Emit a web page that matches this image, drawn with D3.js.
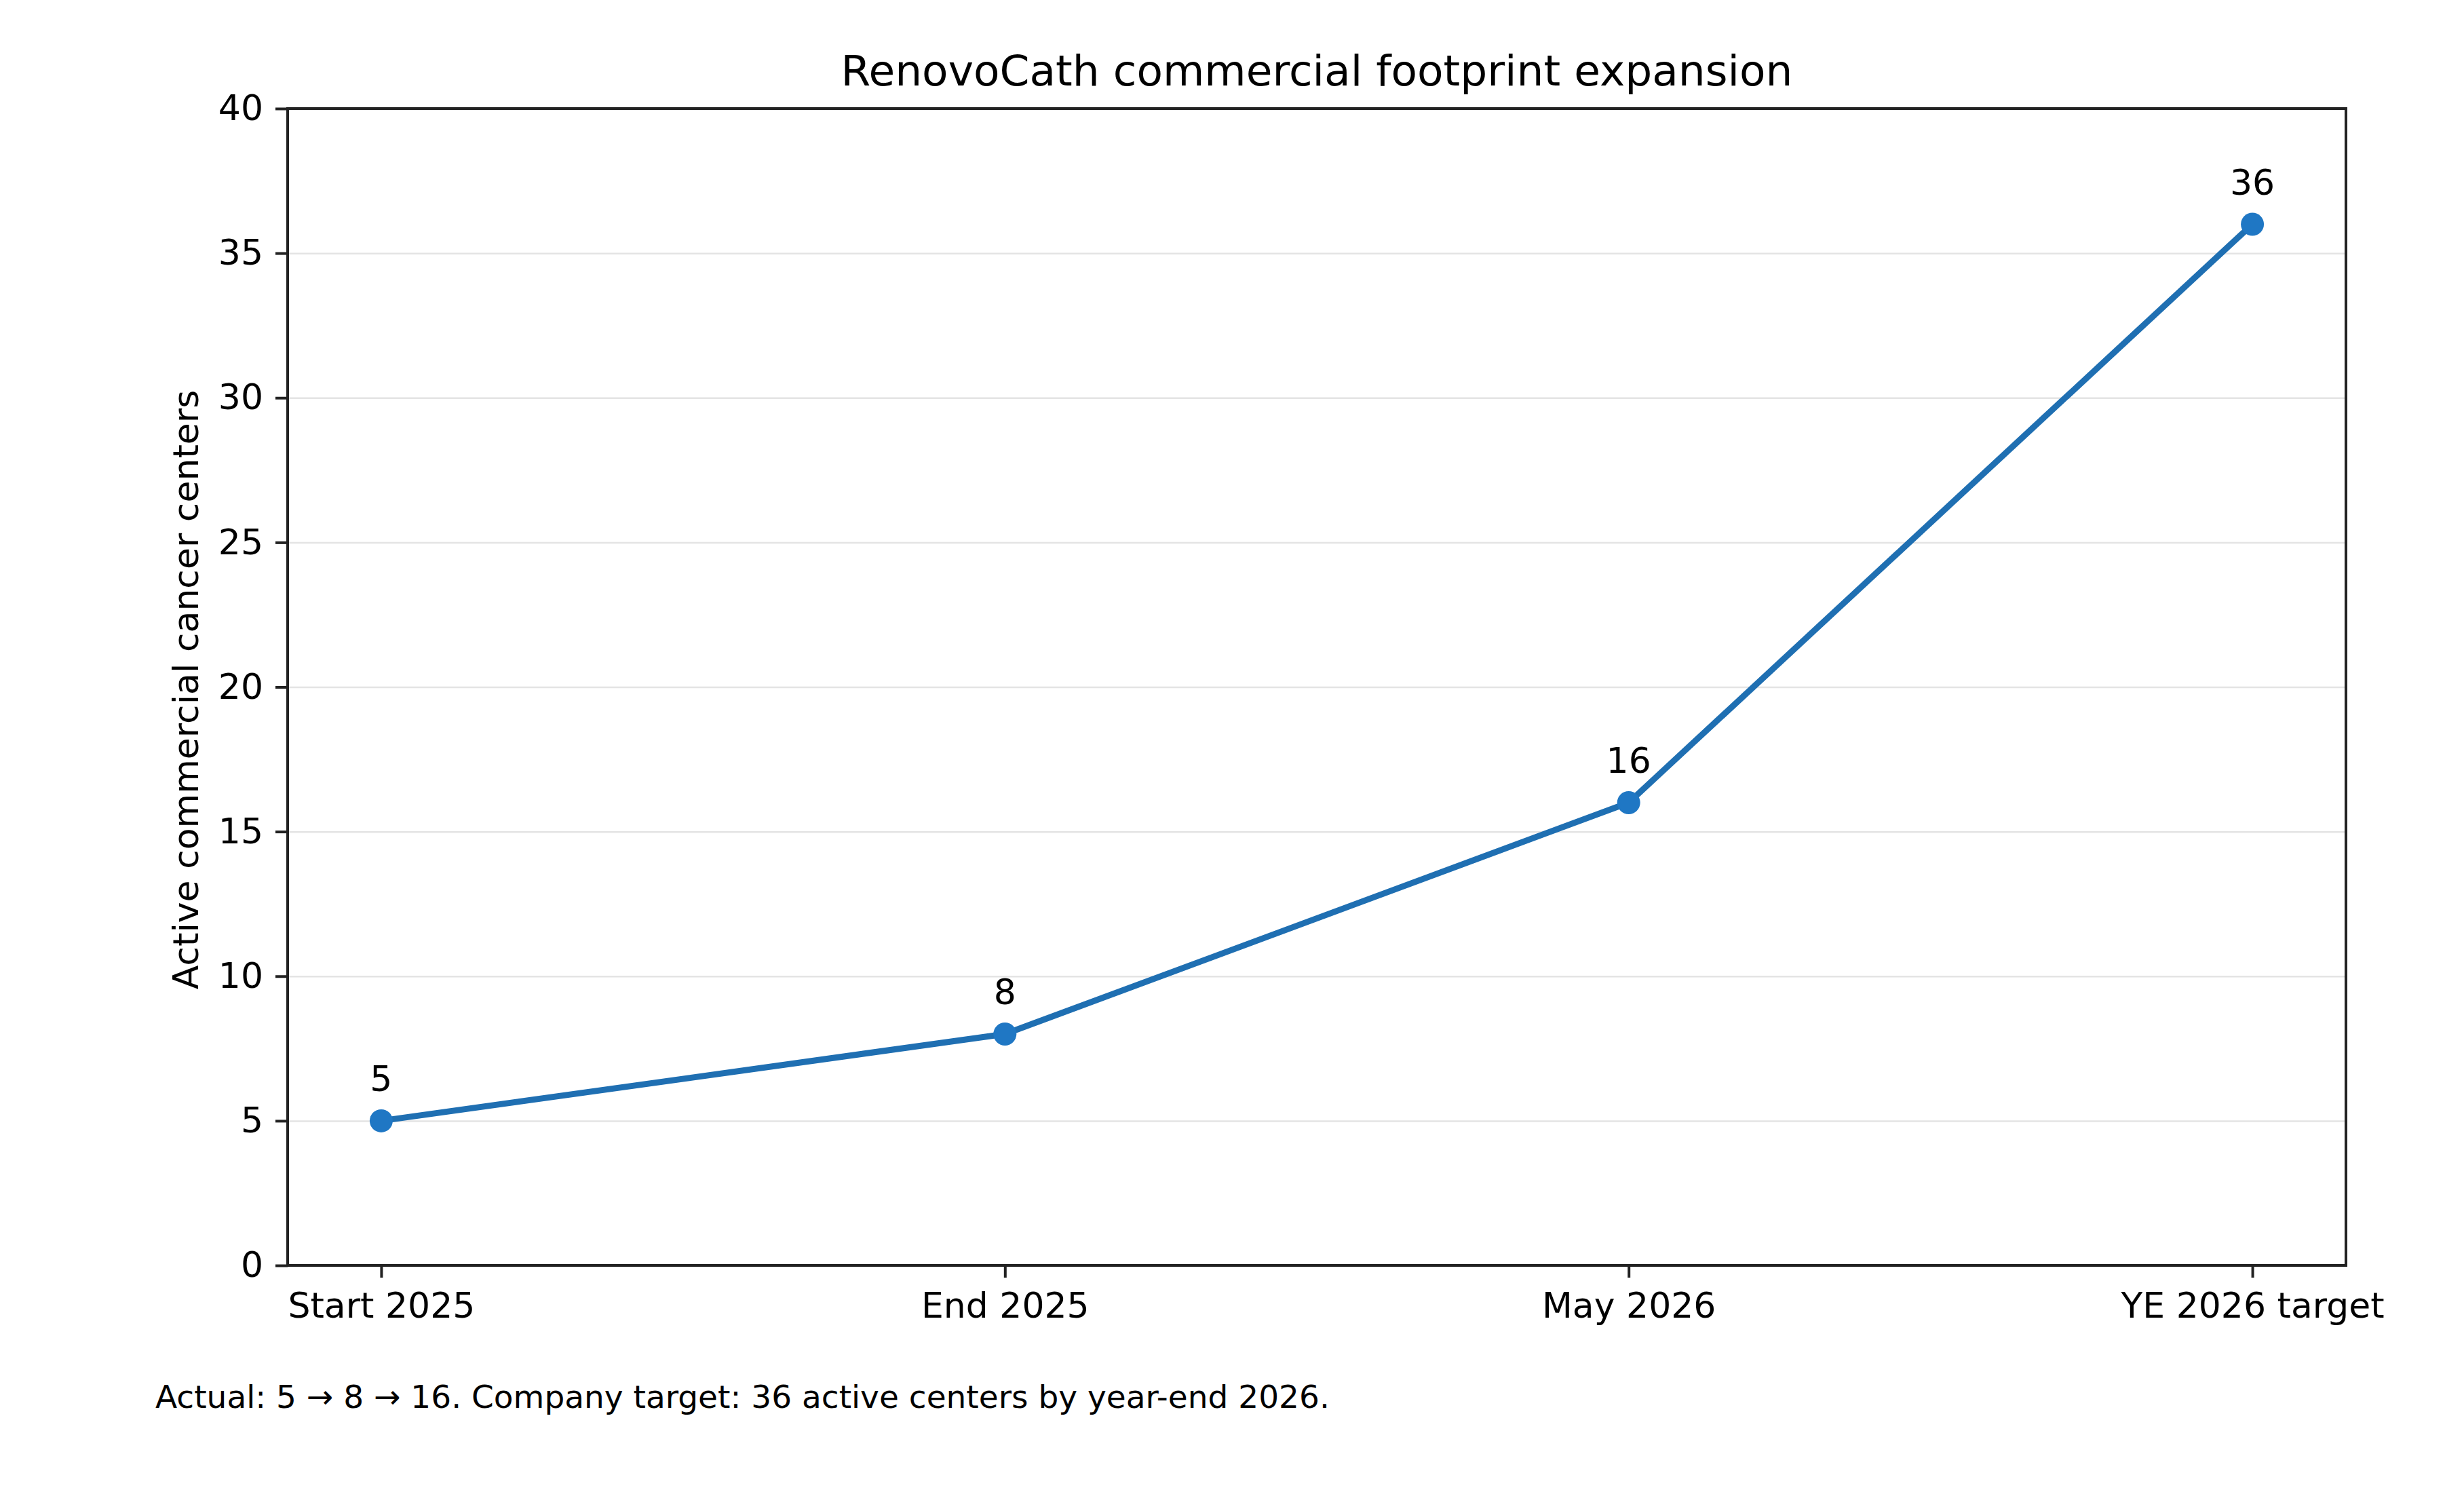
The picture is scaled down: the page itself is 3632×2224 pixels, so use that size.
<!DOCTYPE html>
<html>
<head>
<meta charset="utf-8">
<script src="https://cdn.jsdelivr.net/npm/d3@7"></script>
<style>
  body { margin: 0; background: #fff; }
  text { font-family: "DejaVu Sans", sans-serif; fill: #000; }
</style>
</head>
<body>
<div id="chart"></div>
<script>
// chart data
const categories = ["Start 2025", "End 2025", "May 2026", "YE 2026 target"];
const centers = [5, 8, 16, 36];
const yTicks = [0, 5, 10, 15, 20, 25, 30, 35, 40];

const titleText = "RenovoCath commercial footprint expansion";
const yLabel = "Active commercial cancer centers";
const footnote = "Actual: 5 \u2192 8 \u2192 16. Company target: 36 active centers by year-end 2026.";

const width = 3632, height = 2224;
const margin = {top: 160, right: 174, bottom: 359, left: 424};
const fs = 52;          // tick label size
const tickLen = 18, tickPad = 22;

var svg = d3.select("#chart").append("svg")
    .attr("width", width)
    .attr("height", height);

var plotW = width - margin.left - margin.right,
    plotH = height - margin.top - margin.bottom;

var g = svg.append("g").attr("transform", "translate(" + margin.left + "," + margin.top + ")");

// x behaves like matplotlib categorical axis with 5% margins
var x = d3.scaleLinear()
    .domain([-0.15, categories.length - 1 + 0.15])
    .range([0, plotW]);

var y = d3.scaleLinear()
    .domain([0, 40])
    .range([plotH, 0]);

// grid lines
g.append("g")
    .attr("class", "grid")
    .call(d3.axisLeft(y).tickValues(yTicks).tickSize(-plotW).tickFormat(""))
    .call(a => a.select(".domain").remove())
    .call(a => a.selectAll("line").attr("stroke", "#e4e4e4").attr("stroke-width", 2.5));

// axes
var yAxis = g.append("g")
    .call(d3.axisLeft(y).tickValues(yTicks).tickSize(tickLen).tickPadding(18));
yAxis.select(".domain").remove();
yAxis.selectAll("line").attr("stroke", "#222").attr("stroke-width", 4);
yAxis.selectAll("text").style("font-size", fs + "px").style("font-family", "DejaVu Sans").attr("fill", "#222");

var xAxis = g.append("g")
    .attr("transform", "translate(0," + plotH + ")")
    .call(d3.axisBottom(x).tickValues(d3.range(categories.length))
      .tickFormat(i => categories[i]).tickSize(tickLen).tickPadding(tickPad));
xAxis.select(".domain").remove();
xAxis.selectAll("line").attr("stroke", "#222").attr("stroke-width", 4);
xAxis.selectAll("text").style("font-size", fs + "px").style("font-family", "DejaVu Sans").attr("fill", "#222");

// frame (all four spines)
g.append("rect")
    .attr("width", plotW)
    .attr("height", plotH)
    .attr("fill", "none")
    .attr("stroke", "#222")
    .attr("stroke-width", 4);

// line + markers
var line = d3.line()
    .x((d, i) => x(i))
    .y(d => y(d));

g.append("path")
    .datum(centers)
    .attr("d", line)
    .attr("fill", "none")
    .attr("stroke", "#1f6fb2")
    .attr("stroke-width", 9)
    .attr("stroke-linejoin", "round");

g.selectAll("circle.pt")
    .data(centers)
    .enter().append("circle")
      .attr("class", "pt")
      .attr("cx", (d, i) => x(i))
      .attr("cy", d => y(d))
      .attr("r", 17)
      .attr("fill", "#1f77c4");

// value labels
g.selectAll("text.val")
    .data(centers)
    .enter().append("text")
      .attr("class", "val")
      .attr("x", (d, i) => x(i))
      .attr("y", d => y(d) - 44)
      .attr("text-anchor", "middle")
      .style("font-size", fs + "px")
      .text(d => d);

// title
svg.append("text")
    .attr("x", margin.left + plotW / 2)
    .attr("y", margin.top - 34)
    .attr("text-anchor", "middle")
    .style("font-size", "63px")
    .text(titleText);

// y label
svg.append("text")
    .attr("transform", "translate(292," + (margin.top + plotH / 2 + 4) + ") rotate(-90)")
    .attr("text-anchor", "middle")
    .style("font-size", fs + "px")
    .attr("fill", "#222")
    .text(yLabel);

// footnote
svg.append("text")
    .attr("x", 229)
    .attr("y", 2075)
    .style("font-size", "47px")
    .attr("fill", "#222")
    .text(footnote);
</script>
</body>
</html>
